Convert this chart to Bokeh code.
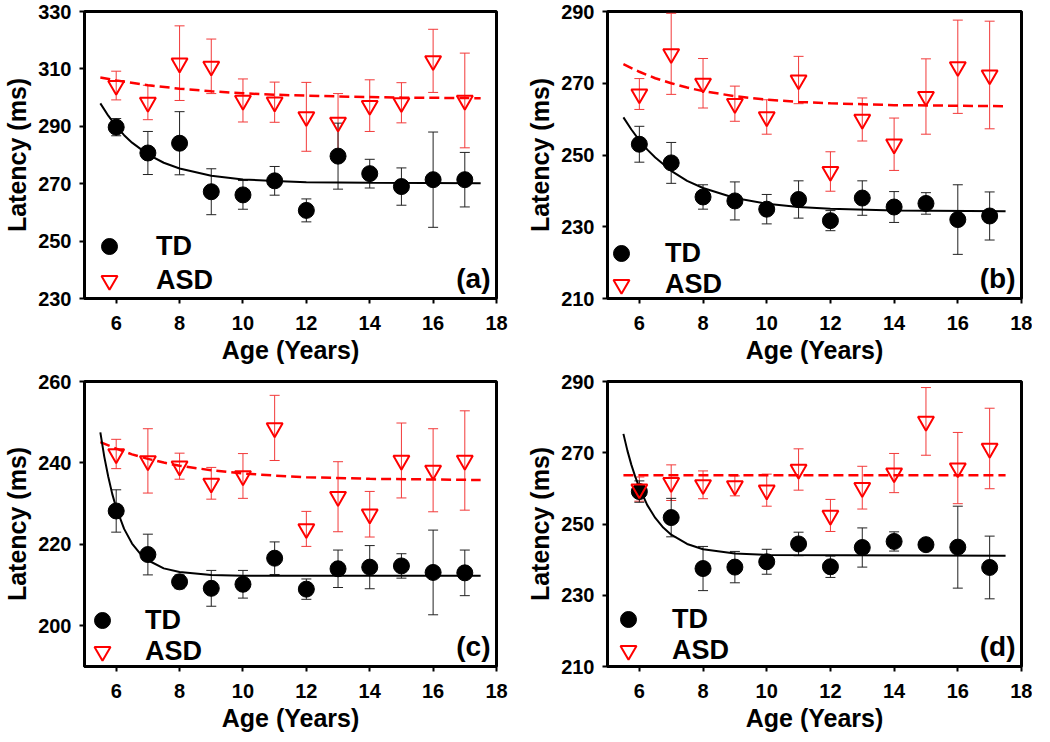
from bokeh.plotting import figure
from bokeh.models import (Range1d, FixedTicker, ColumnDataSource, Whisker, TeeHead,
                          Legend, LegendItem, Label)
from bokeh.layouts import gridplot
from bokeh.embed import file_html
from bokeh.resources import INLINE

ages = [6, 7, 8, 9, 10, 11, 12, 13, 14, 15, 16, 17]
x_ticks = [6, 8, 10, 12, 14, 16, 18]
x_label = "Age (Years)"
y_label = "Latency (ms)"

# ---- panel (a)
a_td = [289.7, 280.7, 284.1, 267.2, 266.1, 271.0, 260.7, 279.6, 273.5, 269.0, 271.4, 271.4]
a_td_err = [3.0, 7.5, 11.0, 8.0, 5.0, 5.0, 4.0, 11.5, 5.0, 6.5, 16.6, 9.5]
a_asd = [304.2, 298.3, 312.0, 310.9, 299.0, 298.4, 293.3, 291.4, 297.2, 298.2, 312.8, 299.0]
a_asd_err = [5.0, 6.0, 13.0, 9.5, 7.5, 7.0, 12.0, 10.0, 9.0, 7.0, 11.0, 16.5]
a_td_fit_x = [5.5, 5.75, 6, 6.25, 6.5, 7, 7.5, 8, 9, 10, 11, 12, 14, 17.5]
a_td_fit_y = [298.0, 293.7, 290.0, 286.9, 284.3, 280.2, 277.3, 275.3, 272.8, 271.5, 270.9, 270.5, 270.3, 270.2]
a_asd_fit_x = [5.5, 6, 7, 8, 9, 10, 11, 12, 13, 14, 15, 17.5]
a_asd_fit_y = [307.0, 306.0, 304.3, 303.1, 302.2, 301.5, 301.0, 300.7, 300.4, 300.2, 300.0, 299.8]
a_yticks = [230, 250, 270, 290, 310, 330]

# ---- panel (b)
b_td = [253.0, 247.8, 238.3, 237.2, 234.9, 237.6, 231.7, 238.0, 235.5, 236.5, 232.0, 233.0]
b_td_err = [5.0, 5.7, 3.4, 5.3, 4.1, 5.2, 2.8, 4.8, 4.3, 3.0, 9.7, 6.7]
b_asd = [267.0, 278.2, 270.0, 264.3, 260.6, 270.9, 245.4, 259.9, 253.0, 266.3, 274.6, 272.3]
b_asd_err = [4.3, 11.3, 6.9, 4.9, 4.8, 6.6, 5.5, 6.0, 7.3, 10.5, 13.0, 15.0]
b_td_fit_x = [5.5, 5.75, 6, 6.25, 6.5, 7, 7.5, 8, 9, 10, 11, 12, 14, 17.5]
b_td_fit_y = [260.5, 257.1, 254.1, 251.5, 249.3, 245.6, 242.8, 240.8, 238.0, 236.4, 235.5, 235.0, 234.5, 234.3]
b_asd_fit_x = [5.5, 6, 6.5, 7, 7.5, 8, 9, 10, 11, 12, 14, 17.5]
b_asd_fit_y = [275.3, 273.2, 271.4, 270.0, 268.8, 267.8, 266.4, 265.4, 264.8, 264.4, 263.9, 263.6]
b_yticks = [210, 230, 250, 270, 290]

# ---- panel (c)
c_td = [228.2, 217.5, 210.8, 209.2, 210.2, 216.6, 209.0, 214.0, 214.4, 214.7, 213.1, 213.0]
c_td_err = [5.2, 5.0, 1.7, 4.4, 3.4, 4.0, 2.5, 4.6, 5.3, 3.0, 10.4, 5.6]
c_asd = [242.2, 240.5, 239.2, 235.0, 236.8, 248.6, 223.8, 231.7, 227.4, 240.6, 238.2, 240.6]
c_asd_err = [3.6, 7.9, 3.2, 3.9, 5.5, 8.0, 4.3, 8.6, 5.6, 9.2, 10.2, 12.2]
c_td_fit_x = [5.5, 5.625, 5.75, 5.875, 6, 6.25, 6.5, 6.75, 7, 7.5, 8, 9, 10, 17.5]
c_td_fit_y = [247.5, 241.5, 236.6, 232.4, 229.0, 223.8, 220.2, 217.8, 216.1, 214.1, 213.2, 212.5, 212.3, 212.3]
c_asd_fit_x = [5.5, 6, 6.5, 7, 7.5, 8, 9, 10, 11, 12, 14, 17.5]
c_asd_fit_y = [245.1, 243.5, 242.1, 241.0, 240.1, 239.3, 238.2, 237.4, 236.9, 236.5, 236.1, 235.8]
c_yticks = [200, 220, 240, 260]

# ---- panel (d)
d_td = [259.1, 251.8, 237.5, 237.9, 239.4, 244.4, 238.0, 243.4, 245.1, 244.2, 243.5, 237.8]
d_td_err = [3.0, 5.4, 6.2, 4.4, 3.5, 3.3, 3.0, 5.5, 2.7, 1.0, 11.5, 8.8]
d_asd = [259.8, 261.6, 261.0, 260.7, 259.5, 265.3, 252.4, 260.2, 264.3, 278.8, 265.7, 271.2]
d_asd_err = [3.4, 5.0, 3.9, 2.8, 4.5, 5.8, 4.5, 6.0, 5.5, 9.5, 10.0, 11.3]
d_td_fit_x = [5.5, 5.625, 5.75, 5.875, 6, 6.25, 6.5, 6.75, 7, 7.5, 8, 9, 10, 17.5]
d_td_fit_y = [275.3, 270.6, 266.6, 263.2, 260.2, 255.3, 251.7, 249.0, 247.0, 244.4, 242.9, 241.7, 241.3, 241.1]
d_asd_fit_x = [5.5, 17.5]
d_asd_fit_y = [263.7, 263.7]
d_yticks = [210, 230, 250, 270, 290]

FONT = "Liberation Sans"
RED = "#ff0000"
XR = (5, 18)


def make_panel(tag, yr, yticks, td, td_err, asd, asd_err, tdfx, tdfy, asdfx, asdfy,
               width, height, bl, br, bt, bb, leg):
    p = figure(width=width, height=height, x_range=Range1d(*XR), y_range=Range1d(*yr),
               output_backend="svg", toolbar_location=None,
               min_border_left=bl, min_border_right=br, min_border_top=bt, min_border_bottom=bb,
               x_axis_label=x_label, y_axis_label=y_label)
    p.grid.visible = False
    p.outline_line_color = "black"
    p.outline_line_width = 3
    p.background_fill_color = "white"
    p.border_fill_color = "white"
    p.xaxis.ticker = FixedTicker(ticks=x_ticks)
    p.yaxis.ticker = FixedTicker(ticks=yticks)
    for ax in (p.xaxis[0], p.yaxis[0]):
        ax.axis_line_color = "black"
        ax.axis_line_width = 3
        ax.major_tick_out = 5
        ax.major_tick_in = 0
        ax.major_tick_line_width = 2
        ax.minor_tick_line_color = None
        ax.major_label_text_font = FONT
        ax.major_label_text_font_style = "bold"
        ax.major_label_text_font_size = "20px"
        ax.major_label_text_color = "black"
        ax.axis_label_text_font = FONT
        ax.axis_label_text_font_style = "bold"
        ax.axis_label_text_font_size = "25px"
        ax.axis_label_text_color = "black"
    p.xaxis.major_label_standoff = 12
    p.xaxis.axis_label_standoff = 3
    p.yaxis.major_label_standoff = 8
    p.yaxis.axis_label_standoff = 4

    td_src = ColumnDataSource(dict(x=ages, y=td,
                                   lo=[v - e for v, e in zip(td, td_err)],
                                   hi=[v + e for v, e in zip(td, td_err)]))
    asd_src = ColumnDataSource(dict(x=ages, y=asd,
                                    lo=[v - e for v, e in zip(asd, asd_err)],
                                    hi=[v + e for v, e in zip(asd, asd_err)]))

    for src, col in ((asd_src, "#f23a3a"), (td_src, "#222222")):
        w = Whisker(base="x", lower="lo", upper="hi", source=src, level="underlay",
                    line_color=col, line_width=1,
                    upper_head=TeeHead(size=10, line_color=col, line_width=1),
                    lower_head=TeeHead(size=10, line_color=col, line_width=1))
        p.add_layout(w)

    p.line(asdfx, asdfy, line_color=RED, line_width=2.5, line_dash="10 5")
    p.line(tdfx, tdfy, line_color="black", line_width=2)

    td_r = p.scatter("x", "y", source=td_src, marker="circle", size=16,
                     fill_color="black", line_color="black")
    asd_r = p.scatter("x", "y", source=asd_src, marker="inverted_triangle", size=16,
                      fill_alpha=0, line_color=RED, line_width=2)

    cx, cy_td, cy_asd, tx = leg
    g = 40
    for lbl, r, cy in (("TD", td_r, cy_td), ("ASD", asd_r, cy_asd)):
        lg = Legend(items=[LegendItem(label=lbl, renderers=[r])],
                    location=(cx - g // 2, cy - g // 2),
                    glyph_width=g, glyph_height=g, padding=0, margin=0, spacing=0,
                    label_standoff=tx - cx - g // 2,
                    label_text_font=FONT, label_text_font_style="bold",
                    label_text_font_size="27px", label_text_color="black",
                    background_fill_alpha=0, border_line_color=None)
        p.add_layout(lg)

    p.add_layout(Label(x=XR[1], y=20, x_units="data", y_units="screen", x_offset=-6,
                       text=tag, text_align="right", text_baseline="middle",
                       text_font=FONT, text_font_style="bold", text_font_size="28px",
                       text_color="black"))
    return p


pa = make_panel("(a)", (230, 330), a_yticks, a_td, a_td_err, a_asd, a_asd_err,
                a_td_fit_x, a_td_fit_y, a_asd_fit_x, a_asd_fit_y,
                518, 370, 82, 22, 11, 72, (25, 52, 18, 72))
pb = make_panel("(b)", (210, 290), b_yticks, b_td, b_td_err, b_asd, b_asd_err,
                b_td_fit_x, b_td_fit_y, b_asd_fit_x, b_asd_fit_y,
                514, 370, 89, 11, 11, 72, (14, 45, 14, 58))
pc = make_panel("(c)", (190, 260), c_yticks, c_td, c_td_err, c_asd, c_asd_err,
                c_td_fit_x, c_td_fit_y, c_asd_fit_x, c_asd_fit_y,
                518, 364, 82, 22, 11, 66, (18, 46, 15, 61))
pd_ = make_panel("(d)", (210, 290), d_yticks, d_td, d_td_err, d_asd, d_asd_err,
                 d_td_fit_x, d_td_fit_y, d_asd_fit_x, d_asd_fit_y,
                 514, 364, 89, 11, 11, 66, (21, 47, 16, 65))

layout = gridplot([[pa, pb], [pc, pd_]], toolbar_location=None)

open("out.html", "w").write(file_html(layout, INLINE))
